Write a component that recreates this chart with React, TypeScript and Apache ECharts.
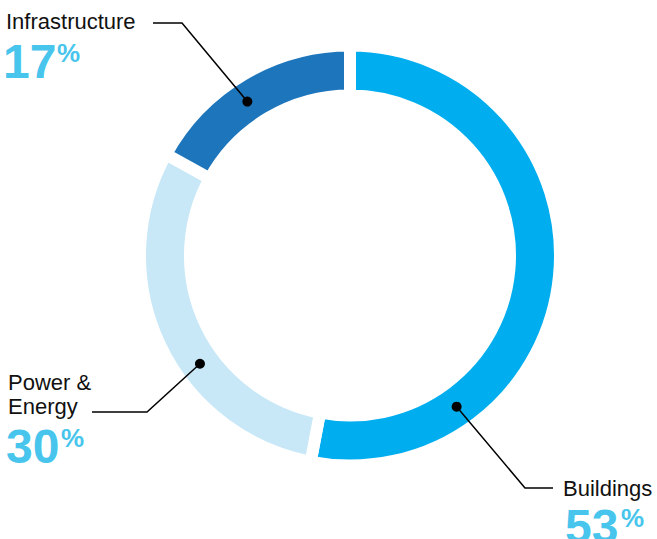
import React, { useEffect, useRef } from "react";
import * as echarts from "echarts";

const categories = ["Buildings", "Power & Energy", "Infrastructure"];
const values = [53, 30, 17];
const labelLines = [["Buildings"], ["Power &", "Energy"], ["Infrastructure"]];
const colors = ["#00AEEF", "#C8E8F8", "#1D75BC"];

const CX = 350;
const CY = 255.5;
const GAP = 12;
const R_IN = 166;
const R_OUT = 204;
const R_MID = (R_IN + R_OUT) / 2;

// annotation layout (angle of the dot on the ring, text anchor, leader elbow)
const dotAngles = [-54.8, 215.8, 123.7];
const textX = [563, 8, 6];
const nameCenterY = [[488.5], [382, 406.5], [21.5]];
const pctCenterY = [526, 446, 61];
const pctNumX = [565, 6, 3];
const pctSignX = [621, 61, 57];
const elbow = [
  [[553, 488], [525, 488]],
  [[92, 412], [147, 412]],
  [[153, 23], [182, 23]],
];

export default function App() {
  const ref = useRef<HTMLDivElement>(null);
  useEffect(() => {
    if (!ref.current) return;
    const chart = echarts.init(ref.current, null, { renderer: "svg" });
    const graphics: any[] = [];
    categories.forEach((c, i) => {
      const a = (dotAngles[i] * Math.PI) / 180;
      const dx = CX + R_MID * Math.cos(a);
      const dy = CY - R_MID * Math.sin(a);
      graphics.push({
        type: "polyline",
        silent: true,
        shape: { points: [elbow[i][0], elbow[i][1], [dx, dy]] },
        style: { stroke: "#000", lineWidth: 1.5, fill: null },
        z: 10,
      });
      graphics.push({
        type: "circle",
        silent: true,
        shape: { cx: dx, cy: dy, r: 5 },
        style: { fill: "#000" },
        z: 11,
      });
      labelLines[i].forEach((t, j) => {
        graphics.push({
          type: "text",
          x: textX[i],
          y: nameCenterY[i][j],
          style: {
            text: t,
            fontFamily: "Liberation Sans, Arial, sans-serif",
            fontSize: 22,
            fill: "#111",
            align: "left",
            verticalAlign: "middle",
          },
        });
      });
      graphics.push({
        type: "text",
        x: pctNumX[i],
        y: pctCenterY[i],
        style: {
          text: String(values[i]),
          fontFamily: "Liberation Sans, Arial, sans-serif",
          fontWeight: "bold",
          fontSize: 48,
          fill: "#48C5EC",
          align: "left",
          verticalAlign: "middle",
        },
      });
      graphics.push({
        type: "text",
        x: pctSignX[i],
        y: pctCenterY[i] - 8,
        style: {
          text: "%",
          fontFamily: "Liberation Sans, Arial, sans-serif",
          fontWeight: "bold",
          fontSize: 26,
          fill: "#48C5EC",
          align: "left",
          verticalAlign: "middle",
        },
      });
    });
    chart.setOption({
      animation: false,
      backgroundColor: "#fff",
      series: [
        {
          type: "pie",
          center: [CX, CY],
          radius: [R_IN - GAP / 2, R_OUT + GAP / 2],
          startAngle: 90,
          clockwise: true,
          silent: true,
          label: { show: false },
          labelLine: { show: false },
          itemStyle: { borderColor: "#fff", borderWidth: GAP },
          data: categories.map((c, i) => ({
            name: c,
            value: values[i],
            itemStyle: { color: colors[i] },
          })),
        },
      ],
      graphic: graphics,
    });
    return () => chart.dispose();
  }, []);
  return <div ref={ref} style={{ width: 657, height: 539, position: "absolute", left: 0, top: 0 }} />;
}
